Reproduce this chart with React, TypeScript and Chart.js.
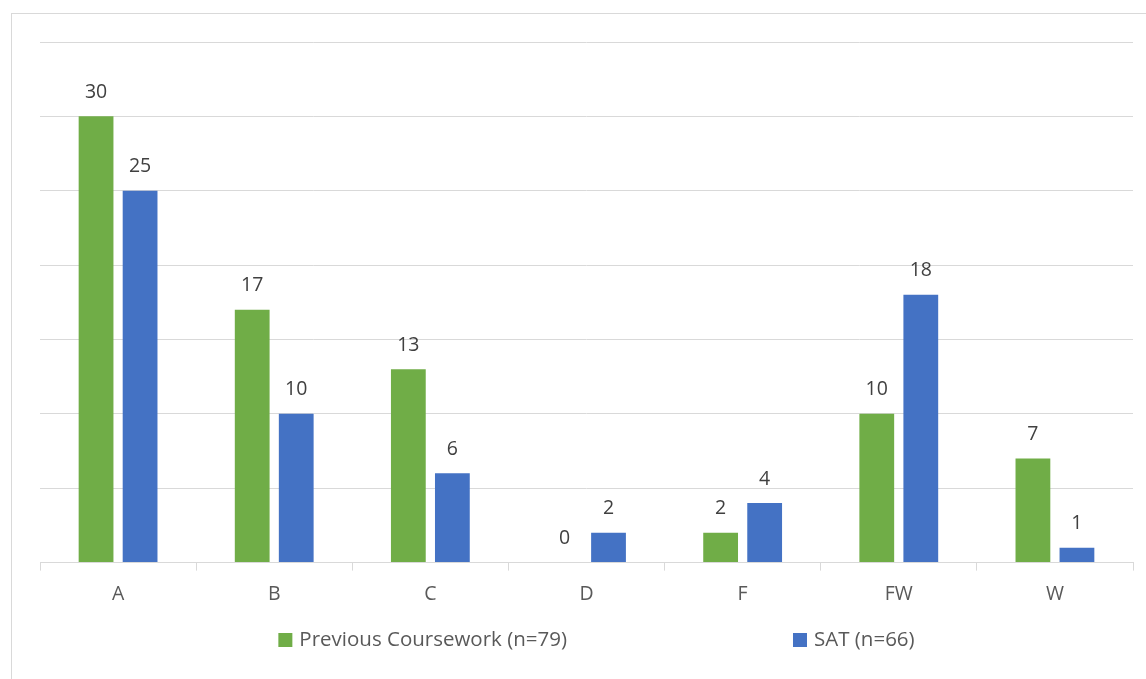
import React, { useEffect, useRef } from "react";
import { Chart, registerables } from "chart.js";

Chart.register(...registerables);

const categories = ["A", "B", "C", "D", "F", "FW", "W"];
const previousCoursework = [30, 17, 13, 0, 2, 10, 7];
const sat = [25, 10, 6, 2, 4, 18, 1];
const seriesNames = ["Previous Coursework (n=79)", "SAT (n=66)"];
const seriesColors = ["#70AD47", "#4472C4"];

const FONT = "'Open Sans', 'DejaVu Sans', sans-serif";

// Frame around the chart, value labels above bars, and a wide-spaced legend.
const decorations = {
  id: "decorations",
  beforeDraw(chart: any) {
    const ctx = chart.ctx;
    ctx.save();
    ctx.strokeStyle = "#d9d9d9";
    ctx.lineWidth = 1;
    ctx.strokeRect(11.5, 13.5, chart.width + 20, chart.height + 20);
    ctx.restore();
  },
  afterDatasetsDraw(chart: any) {
    const ctx = chart.ctx;
    ctx.save();
    ctx.font = `19.5px ${FONT}`;
    ctx.fillStyle = "#404040";
    ctx.textAlign = "center";
    ctx.textBaseline = "middle";
    chart.data.datasets.forEach((ds: any, i: number) => {
      const meta = chart.getDatasetMeta(i);
      meta.data.forEach((bar: any, j: number) => {
        ctx.fillText(String(ds.data[j]), bar.x, bar.y - 24);
      });
    });
    ctx.restore();
  },
  afterDraw(chart: any) {
    const ctx = chart.ctx;
    ctx.save();
    ctx.font = `20.5px ${FONT}`;
    ctx.textBaseline = "middle";
    const box = 14;
    const textGap = 7;
    const itemGap = 226;
    const widths = chart.data.datasets.map(
      (ds: any) => box + textGap + ctx.measureText(ds.label).width
    );
    const total = widths.reduce((a: number, b: number) => a + b, 0) + itemGap * (widths.length - 1);
    const cx = (chart.chartArea.left + chart.chartArea.right) / 2 + 10;
    let x = cx - total / 2;
    const y = 640;
    chart.data.datasets.forEach((ds: any, i: number) => {
      ctx.fillStyle = ds.backgroundColor;
      ctx.fillRect(x, y - box / 2, box, box);
      ctx.fillStyle = "#595959";
      ctx.fillText(ds.label, x + box + textGap, y);
      x += widths[i] + itemGap;
    });
    ctx.restore();
  },
};

export default function App() {
  const canvasRef = useRef<HTMLCanvasElement>(null);

  useEffect(() => {
    if (!canvasRef.current) return;
    const chart = new Chart(canvasRef.current, {
      type: "bar",
      data: {
        labels: categories,
        datasets: [
          { label: seriesNames[0], data: previousCoursework, backgroundColor: seriesColors[0] },
          { label: seriesNames[1], data: sat, backgroundColor: seriesColors[1] },
        ],
      },
      options: {
        animation: false,
        responsive: true,
        maintainAspectRatio: false,
        layout: { padding: { left: 40, right: 13, top: 42, bottom: 61 } },
        datasets: {
          bar: { categoryPercentage: 0.564, barPercentage: 0.79 },
        },
        plugins: {
          legend: { display: false },
          tooltip: { enabled: false },
        },
        scales: {
          x: {
            grid: {
              drawOnChartArea: false,
              drawTicks: true,
              tickLength: 8,
              color: "#d9d9d9",
            },
            border: { color: "#d9d9d9", width: 1 },
            ticks: {
              padding: 12,
              color: "#595959",
              font: { family: FONT, size: 19.5 },
            },
          },
          y: {
            min: 0,
            max: 35,
            ticks: { display: false, stepSize: 5 },
            grid: { color: "#d9d9d9", drawTicks: false },
            border: { display: false },
          },
        },
      },
      plugins: [decorations],
    });
    return () => chart.destroy();
  }, []);

  return (
    <div style={{ position: "absolute", left: 0, top: 0, width: 1146, height: 679, background: "#fff" }}>
      <canvas ref={canvasRef} />
    </div>
  );
}
